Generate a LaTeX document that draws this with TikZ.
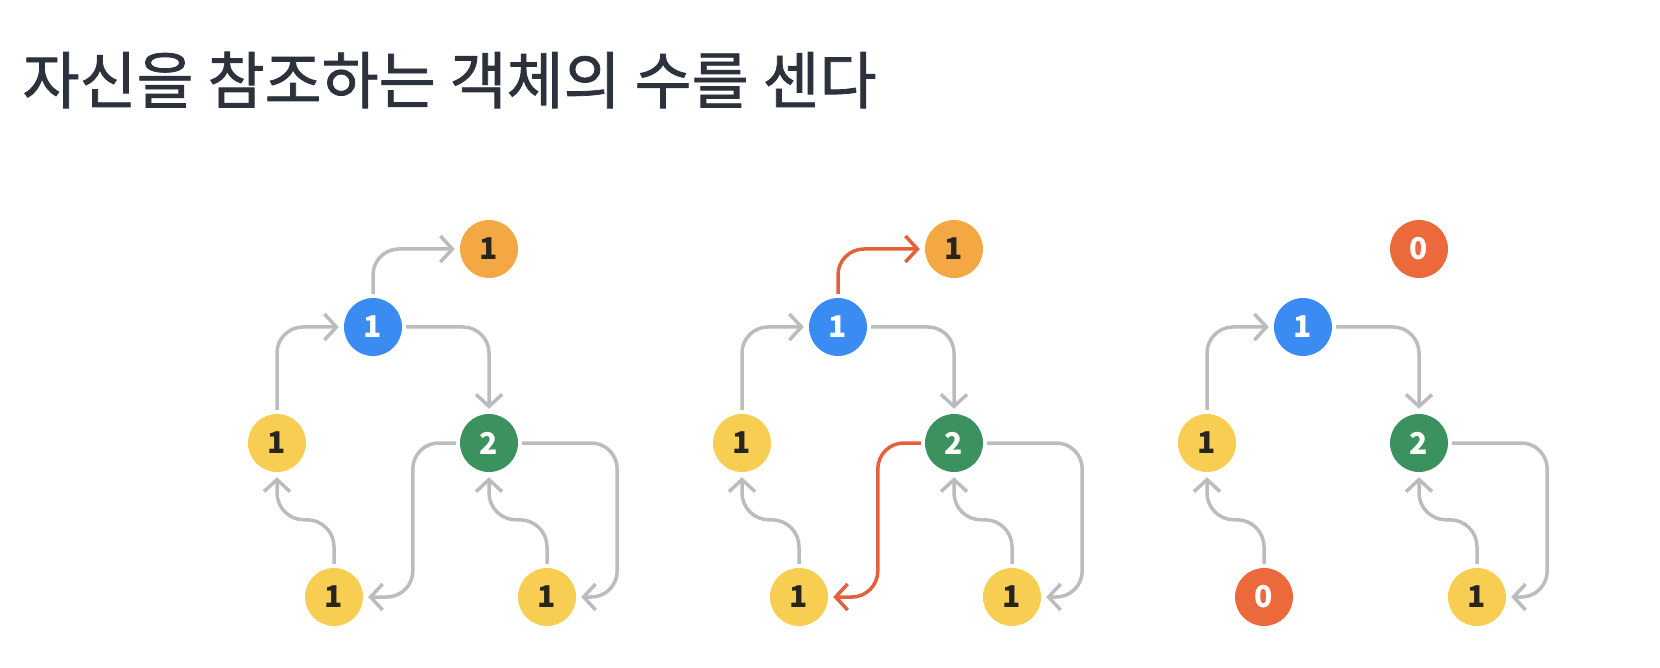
\documentclass[tikz,border=0pt]{standalone}
\usepackage{fontspec}
\newfontfamily\cjk{Noto Sans CJK KR}
\newfontfamily\cjktitle[FakeBold=1.2]{Noto Sans CJK KR}
\usetikzlibrary{arrows.meta,calc}
\definecolor{TitleInk}{RGB}{44,49,59}
\definecolor{NumInk}{RGB}{40,36,30}
\definecolor{ObjYellow}{RGB}{247,206,82}
\definecolor{ObjOrange}{RGB}{243,168,67}
\definecolor{ObjBlue}{RGB}{58,140,242}
\definecolor{ObjGreen}{RGB}{60,146,94}
\definecolor{ObjRed}{RGB}{236,105,60}
\definecolor{RefGray}{RGB}{188,188,188}
\definecolor{RefRed}{RGB}{228,96,61}

\tikzset{
  obj/.style={circle,minimum size=58pt,inner sep=0pt,font=\cjk\bfseries\fontsize{30}{30}\selectfont},
  yel/.style={obj,fill=ObjYellow,text=NumInk},
  orng/.style={obj,fill=ObjOrange,text=NumInk},
  blu/.style={obj,fill=ObjBlue,text=white},
  grn/.style={obj,fill=ObjGreen,text=white},
  dead/.style={obj,fill=ObjRed,text=white},
  ref/.style={line width=3.5pt,draw=RefGray,-{Straight Barb[length=12pt,width=26pt]},
    rounded corners=26pt,shorten >=5pt,shorten <=4pt},
  hot/.style={ref,draw=RefRed},
  wiggle/.style={rounded corners=27pt},
}

\begin{document}
\begin{tikzpicture}[x=1pt,y=-1pt]
\useasboundingbox (0,0) rectangle (1660,668);

\node[anchor=west,text=TitleInk,font=\cjktitle\fontsize{62}{62}\selectfont] (title) at (19,80) {자신을 참조하는 객체의 수를 센다};

% before
\node[orng] (top1) at (489,249) {1};
\node[blu] (mid1) at (373,327) {1};
\node[yel] (lft1) at (277,443) {1};
\node[grn] (hub1) at (489,443) {2};
\node[yel] (bl1) at (334,597) {1};
\node[yel] (br1) at (547,597) {1};
\draw[ref] (mid1.north) |- (top1.west);
\draw[ref] (lft1.north) |- (mid1.west);
\draw[ref] (mid1.east) -| (hub1.north);
\draw[ref] (hub1.west) -- ++(-47,0) |- (bl1.east);
\draw[ref] (hub1.east) -- ++(99,0) |- (br1.east);
\draw[ref,wiggle] (bl1.north) -- ++(0,-48) -| (lft1.south);
\draw[ref,wiggle] (br1.north) -- ++(0,-48) -| (hub1.south);

% two references removed
\begin{scope}[xshift=465pt]
\node[orng] (top2) at (489,249) {1};
\node[blu] (mid2) at (373,327) {1};
\node[yel] (lft2) at (277,443) {1};
\node[grn] (hub2) at (489,443) {2};
\node[yel] (bl2) at (334,597) {1};
\node[yel] (br2) at (547,597) {1};
\draw[hot] (mid2.north) |- (top2.west);
\draw[ref] (lft2.north) |- (mid2.west);
\draw[ref] (mid2.east) -| (hub2.north);
\draw[hot] (hub2.west) -- ++(-47,0) |- (bl2.east);
\draw[ref] (hub2.east) -- ++(99,0) |- (br2.east);
\draw[ref,wiggle] (bl2.north) -- ++(0,-48) -| (lft2.south);
\draw[ref,wiggle] (br2.north) -- ++(0,-48) -| (hub2.south);
\end{scope}

% after
\begin{scope}[xshift=930pt]
\node[dead] (top3) at (489,249) {0};
\node[blu] (mid3) at (373,327) {1};
\node[yel] (lft3) at (277,443) {1};
\node[grn] (hub3) at (489,443) {2};
\node[dead] (bl3) at (334,597) {0};
\node[yel] (br3) at (547,597) {1};
\draw[ref] (lft3.north) |- (mid3.west);
\draw[ref] (mid3.east) -| (hub3.north);
\draw[ref] (hub3.east) -- ++(99,0) |- (br3.east);
\draw[ref,wiggle] (bl3.north) -- ++(0,-48) -| (lft3.south);
\draw[ref,wiggle] (br3.north) -- ++(0,-48) -| (hub3.south);
\end{scope}
\end{tikzpicture}
\end{document}
